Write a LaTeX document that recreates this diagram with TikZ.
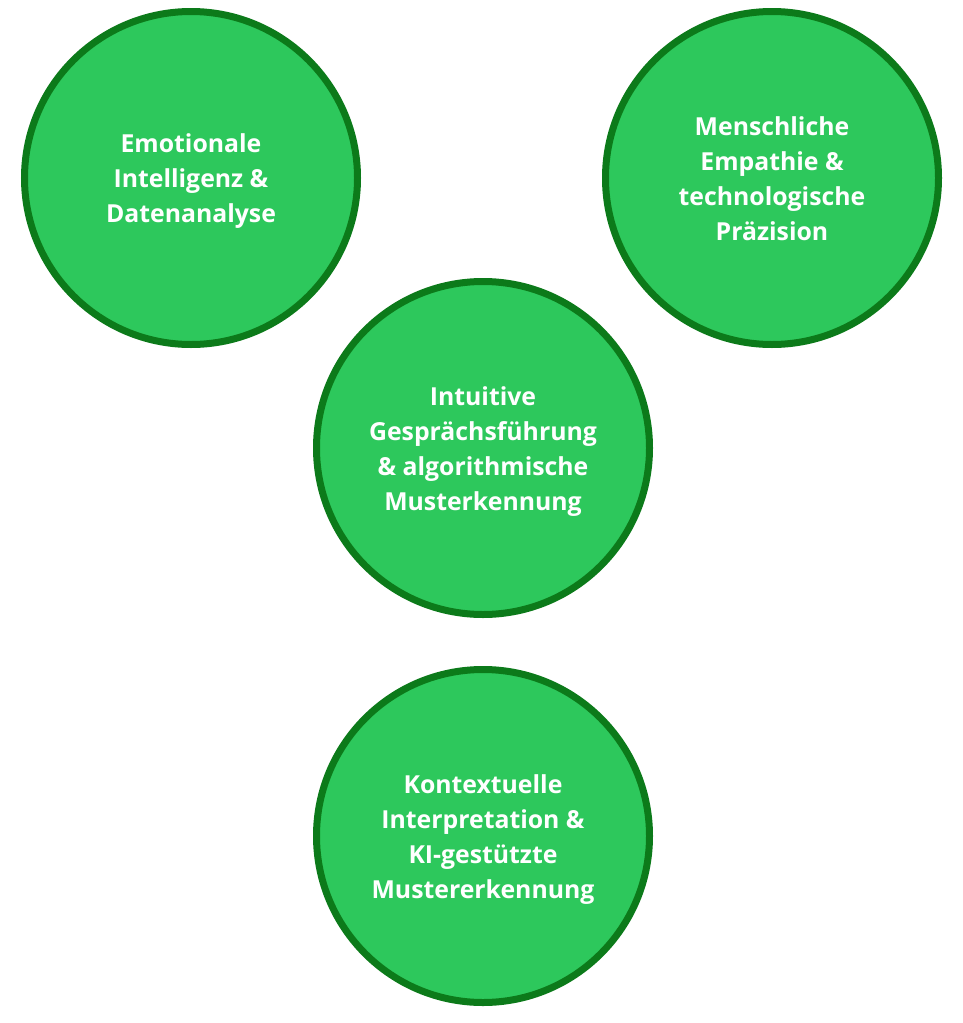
\documentclass[tikz,border=0pt]{standalone}
\usepackage{fontspec}
\setmainfont{Open Sans}
\usetikzlibrary{shapes,calc}
\definecolor{ringfill}{RGB}{45,200,92}
\definecolor{ringdraw}{RGB}{12,122,26}
\newcommand{\ringtop}{\rule{0pt}{26.5pt}}
\newcommand{\ringbot}{\rule[-7pt]{0pt}{7pt}}

\begin{document}
\begin{tikzpicture}[x=1pt, y=-1pt, outer sep=0pt,
  ring/.style={circle, draw=ringdraw, fill=ringfill, line width=7pt,
    minimum size=333pt, inner sep=0pt, align=center, text=white,
    font=\bfseries\fontsize{24.8}{35}\selectfont}]

\useasboundingbox (0,0) rectangle (963,1023);

\node[ring] at (191, 178) (EMO) {\ringtop Emotionale\\Intelligenz \&\\Datenanalyse\ringbot};
\node[ring] at (772, 178) (EMP) {\ringtop Menschliche\\Empathie \&\\technologische\\Präzision\ringbot};
\node[ring] at (483, 448) (INT) {\ringtop Intuitive\\Gesprächsführung\\\& algorithmische\\Musterkennung\ringbot};
\node[ring] at (483, 836) (KON) {\ringtop Kontextuelle\\Interpretation \&\\KI-gestützte\\Mustererkennung\ringbot};
\end{tikzpicture}
\end{document}
